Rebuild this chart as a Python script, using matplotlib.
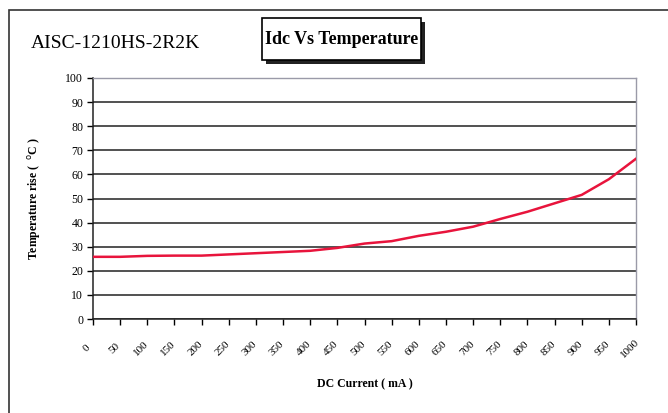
import matplotlib
matplotlib.use("Agg")
import matplotlib.pyplot as plt
import matplotlib.transforms as mtransforms
from matplotlib.patches import Rectangle

current_ma = [0, 50, 100, 150, 200, 250, 300, 350, 400, 450, 500,
              550, 600, 650, 700, 750, 800, 850, 900, 950, 1000]
temp_rise = [25.8, 25.8, 26.2, 26.3, 26.3, 26.8, 27.3, 27.8, 28.3, 29.5, 31.3,
             32.3, 34.5, 36.2, 38.3, 41.5, 44.5, 48.0, 51.5, 58.0, 66.5]
y_ticks = list(range(0, 101, 10))

W, H = 668, 413
fig = plt.figure(figsize=(W / 100, H / 100), dpi=100)
fig.patch.set_facecolor("white")

serif = ["Liberation Serif", "DejaVu Serif"]

# outer frame
fig.add_artist(Rectangle((9 / W, -0.05), 1.2, 1 - 10 / H + 0.05, transform=fig.transFigure,
                         fill=False, edgecolor="#333333", linewidth=1.2))

ax = fig.add_axes([93 / W, 1 - 319 / H, (636 - 93) / W, (319 - 78) / H])
ax.plot(current_ma, temp_rise, color="#e8143c", linewidth=1.8, zorder=3)
ax.set_xlim(0, 1000)
ax.set_ylim(0, 100)
ax.set_yticks(y_ticks)
ax.set_xticks(current_ma)
ax.tick_params(axis="x", direction="out", length=4, width=1, pad=19)
ax.tick_params(axis="y", direction="out", length=4, width=1, pad=3)
ax.set_xticklabels([str(v) for v in current_ma], rotation=45,
                   rotation_mode="anchor", fontsize=8, family=serif)
ax.set_yticklabels([str(v) for v in y_ticks], fontsize=8.5, family=serif)
offset = mtransforms.ScaledTranslation(-6 / 100, 3 / 100, fig.dpi_scale_trans)
for tick in ax.xaxis.get_major_ticks():
    lab = tick.label1
    lab.set_ha("center")
    lab.set_va("center")
    lab.set_transform(lab.get_transform() + offset)
ax.grid(axis="y", color="#222222", linewidth=1.1)
ax.set_axisbelow(True)
for s in ["top", "right"]:
    ax.spines[s].set_color("#9a9aa8")
    ax.spines[s].set_linewidth(1)
for s in ["left", "bottom"]:
    ax.spines[s].set_color("#222222")
    ax.spines[s].set_linewidth(1.1)

ax.set_xlabel("DC Current ( mA )", fontsize=8.5, fontweight="bold", family=serif, labelpad=14)
ax.set_ylabel("Temperature rise (  $^{\\mathrm{o}}$C )", fontsize=8.5, fontweight="bold",
              family=serif, labelpad=16)

# part number text
fig.text(31 / W, 1 - 44 / H, "AISC-1210HS-2R2K", fontsize=14, family=serif,
         ha="left", va="center")

# title box with shadow
bx0, bx1, by0, by1 = 262, 421, 18, 60
fig.add_artist(Rectangle(((bx0 + 4) / W, 1 - (by1 + 4) / H), (bx1 - bx0) / W, (by1 - by0) / H,
                         transform=fig.transFigure, facecolor="#222222", edgecolor="none"))
fig.add_artist(Rectangle((bx0 / W, 1 - by1 / H), (bx1 - bx0) / W, (by1 - by0) / H,
                         transform=fig.transFigure, facecolor="white", edgecolor="black",
                         linewidth=1.2))
fig.text((bx0 + bx1) / 2 / W, 1 - 40 / H, "Idc Vs Temperature", fontsize=13,
         fontweight="bold", family=serif, ha="center", va="center")

fig.savefig("out.png", dpi=100, facecolor="white")
